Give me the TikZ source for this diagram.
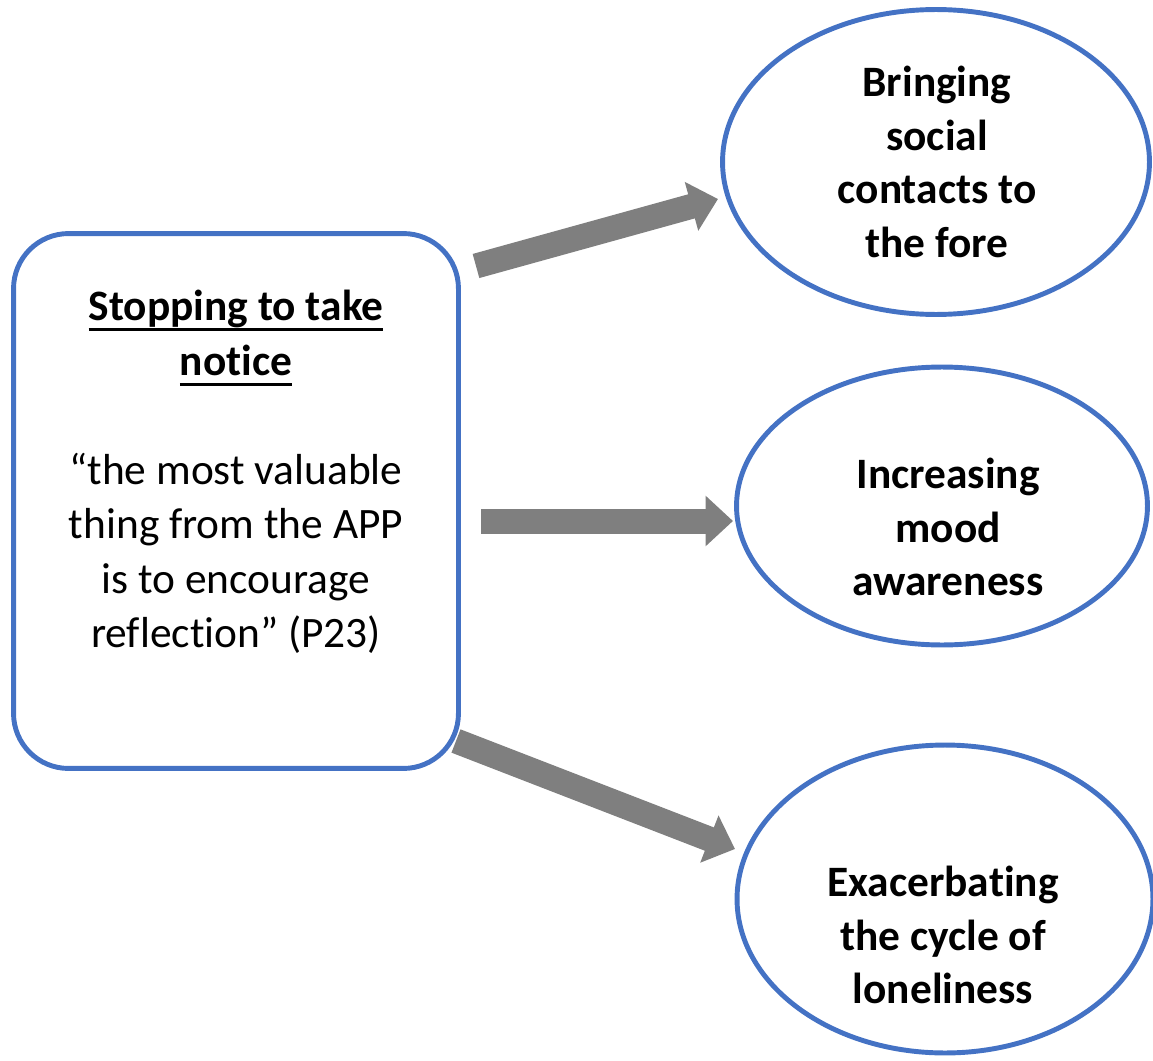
\documentclass[tikz,border=0pt]{standalone}
\usepackage{fontspec}
\setmainfont[Ligatures=NoCommon]{Carlito}
\usetikzlibrary{shapes.geometric,arrows.meta}
\definecolor{ublue}{HTML}{4472C4}
\definecolor{agrey}{HTML}{7F7F7F}
\newcommand\myul[1]{\setbox0\hbox{#1}\rlap{\rule[-6pt]{\wd0}{1.7pt}}\box0}
\begin{document}
\begin{tikzpicture}[x=0.02cm,y=-0.02cm,
  every node/.style={font=\fontsize{24.7}{30}\selectfont},
  bluebox/.style={draw=ublue,line width=2.8pt,rounded corners=1.1cm,minimum width=8.9cm,minimum height=10.7cm,inner sep=0pt},
  blueell/.style={draw=ublue,line width=2.8pt,ellipse,inner sep=0pt},
  lbl/.style={align=center,inner sep=0pt,font=\fontsize{24.7}{30.5}\selectfont\bfseries},
  bigarrow/.style={draw=agrey,line width=0.5cm,-{Triangle[width=0.98cm,length=0.55cm]}}]
\useasboundingbox (0,0) rectangle (1153,1061);
\node[bluebox] (box) at (236,501) {};
\node[align=center,inner sep=0pt,font=\fontsize{24.7}{31}\selectfont] (boxtxt) at (236,472)
  {\textbf{\myul{Stopping to take}}\\ \textbf{\myul{notice}}\\[31pt]
   “the most valuable\\ thing from the APP\\ is to encourage\\ reflection” (P23)};
\node[blueell,minimum width=8.54cm,minimum height=6.1cm] (e1) at (936,162) {};
\node[blueell,minimum width=8.22cm,minimum height=5.56cm] (e2) at (942,506) {};
\node[blueell,minimum width=8.32cm,minimum height=6.16cm] (e3) at (945,899) {};
\node[lbl] (t1) at (937,162) {Bringing\\ social\\ contacts to\\ the fore};
\node[lbl] (t2) at (948,527) {Increasing\\ mood\\ awareness};
\node[lbl] (t3) at (943,935) {Exacerbating\\ the cycle of\\ loneliness};
\coordinate (a1s) at (476,266);
\coordinate (a1e) at (718,199);
\coordinate (a2s) at (481,521);
\coordinate (a2e) at (733,521);
\coordinate (a3s) at (456,741);
\coordinate (a3e) at (735,849);
\draw[bigarrow] (a1s) -- (a1e);
\draw[bigarrow] (a2s) -- (a2e);
\draw[bigarrow] (a3s) -- (a3e);
\end{tikzpicture}
\end{document}
